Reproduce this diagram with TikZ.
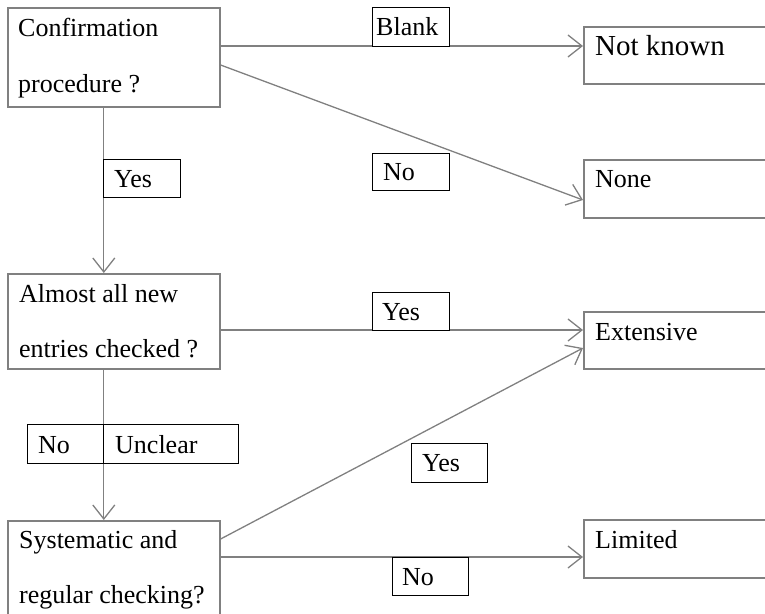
\documentclass[tikz,border=0pt]{standalone}
\usepackage{fontspec}
\setmainfont{Liberation Serif}
\usetikzlibrary{arrows.meta}
\definecolor{boxgray}{RGB}{128,128,128}
\begin{document}
\begin{tikzpicture}[x=1pt,y=-1pt,
 box/.style={draw=boxgray, line width=1.6pt, anchor=north west, inner sep=0pt},
 lbl/.style={draw=black, line width=0.9pt, fill=white, anchor=north west, inner sep=0pt},
 txt/.style={anchor=base west, inner sep=0pt, font=\fontsize{26}{30}\selectfont},
 bigtxt/.style={anchor=base west, inner sep=0pt, font=\fontsize{29}{33}\selectfont},
 conn/.style={draw=boxgray, line width=1.3pt, -{Straight Barb[length=14pt,width=22pt,line width=1.3pt]}}]
\useasboundingbox (0,0) rectangle (765,613);
% decision boxes
\node[box, minimum width=212pt, minimum height=99pt] (b1) at (7,7) {};
\node[box, minimum width=212pt, minimum height=95pt] (b2) at (7,273) {};
\node[box, minimum width=212pt, minimum height=130pt] (b3) at (7,520) {};
% outcome boxes
\node[box, minimum width=200pt, minimum height=57pt] (r1) at (583,26) {};
\node[box, minimum width=200pt, minimum height=58pt] (r2) at (583,159) {};
\node[box, minimum width=200pt, minimum height=57pt] (r3) at (583,311) {};
\node[box, minimum width=200pt, minimum height=58pt] (r4) at (583,519) {};
% connectors
\draw[conn] ([yshift=-39pt]b1.north east) -- ([yshift=-20pt]r1.north west);
\draw[conn] ([yshift=-58pt]b1.north east) -- ([yshift=-41pt]r2.north west);
\draw[conn] ([xshift=-10pt]b1.south) -- ([xshift=-10pt]b2.north);
\draw[conn] ([yshift=-57pt]b2.north east) -- ([yshift=-19pt]r3.north west);
\draw[conn] ([xshift=-10pt]b2.south) -- ([xshift=-10pt]b3.north);
\draw[conn] ([yshift=-19pt]b3.north east) -- ([yshift=-37pt]r3.north west);
\draw[conn] ([yshift=-37pt]b3.north east) -- ([yshift=-38pt]r4.north west);
% label boxes
\node[lbl, minimum width=77pt, minimum height=39pt] (lblank) at (372,7) {};
\node[lbl, minimum width=77pt, minimum height=37pt] (lno1) at (372,153) {};
\node[lbl, minimum width=77pt, minimum height=38pt] (lyes1) at (103,159) {};
\node[lbl, minimum width=77pt, minimum height=38pt] (lyes2) at (372,292) {};
\node[lbl, minimum width=76pt, minimum height=39pt] (lno2) at (27,424) {};
\node[lbl, minimum width=135pt, minimum height=39pt] (lunc) at (103,424) {};
\node[lbl, minimum width=76pt, minimum height=39pt] (lyes3) at (411,443) {};
\node[lbl, minimum width=76pt, minimum height=38pt] (lno3) at (392,557) {};
% texts
\node[txt] (t1a) at (18,36) {Confirmation};
\node[txt] (t1b) at (18,92) {procedure ?};
\node[txt] (t2a) at (19,302) {Almost all new};
\node[txt] (t2b) at (19,357) {entries checked ?};
\node[txt] (t3a) at (19,548) {Systematic and};
\node[txt] (t3b) at (19,603) {regular checking?};
\node[bigtxt] (tr1) at (595,55) {Not known};
\node[txt] (tr2) at (595,187) {None};
\node[txt] (tr3) at (595,340) {Extensive};
\node[txt] (tr4) at (595,548) {Limited};
\node[txt] (tlblank) at (376,35) {Blank};
\node[txt] (tlno1) at (383,180) {No};
\node[txt] (tlyes1) at (114,187) {Yes};
\node[txt] (tlyes2) at (382,320) {Yes};
\node[txt] (tlno2) at (38,453) {No};
\node[txt] (tlunc) at (115,453) {Unclear};
\node[txt] (tlyes3) at (422,471) {Yes};
\node[txt] (tlno3) at (402,585) {No};
\end{tikzpicture}
\end{document}
